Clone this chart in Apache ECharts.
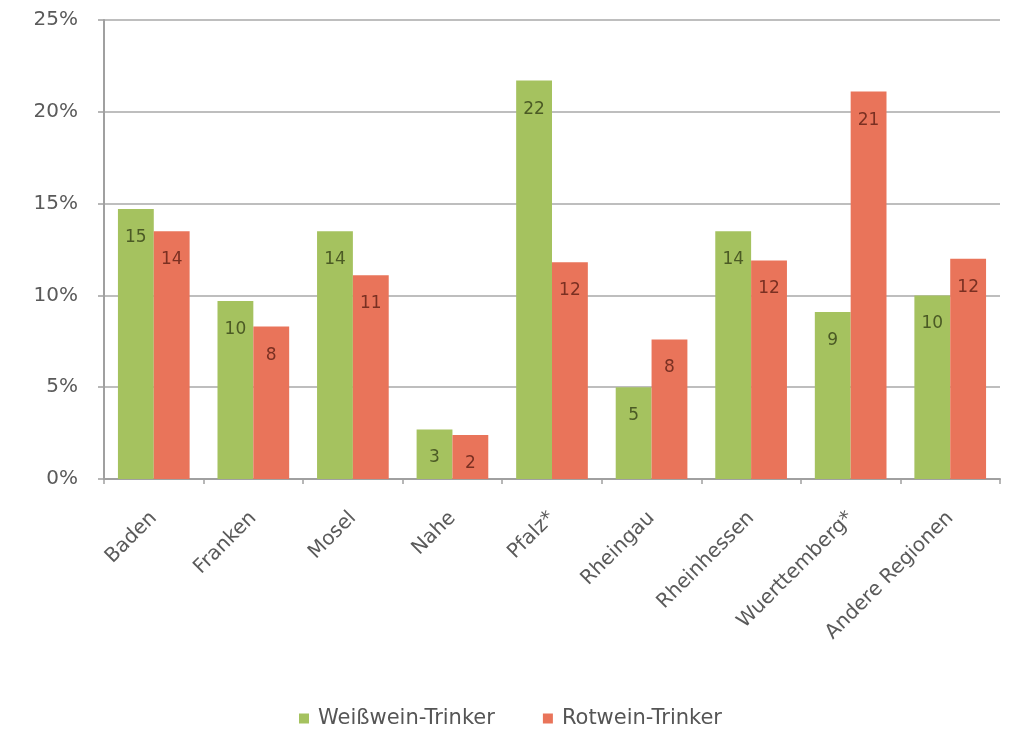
<!DOCTYPE html>
<html>
<head>
<meta charset="utf-8">
<style>
  html, body { margin: 0; padding: 0; background: #ffffff; }
  #chart { width: 1021px; height: 733px; }
</style>
<script src="https://cdn.jsdelivr.net/npm/echarts@6/dist/echarts.min.js"></script>
</head>
<body>
<div id="chart"></div>
<script>
// Regional preference of white- and red-wine drinkers (share in %)
const regions = ['Baden', 'Franken', 'Mosel', 'Nahe', 'Pfalz*', 'Rheingau', 'Rheinhessen', 'Wuerttemberg*', 'Andere Regionen'];
const weissweinValues = [14.7, 9.7, 13.5, 2.7, 21.7, 5.0, 13.5, 9.1, 10.0];
const rotweinValues = [13.5, 8.3, 11.1, 2.4, 11.8, 7.6, 11.9, 21.1, 12.0];
const seriesNames = ['Weißwein-Trinker', 'Rotwein-Trinker'];
const yTicks = [0, 5, 10, 15, 20, 25];

const fontFamily = '"DejaVu Sans", "Noto Sans", sans-serif';
const greenColor = '#a5c25f';
const redColor = '#e9745a';

const chart = echarts.init(document.getElementById('chart'));

function barLabel(color) {
  return {
    show: true,
    position: 'insideTop',
    distance: 20,
    color: color,
    fontFamily: fontFamily,
    fontSize: 17,
    formatter: p => String(Math.round(p.value))
  };
}

chart.setOption({
  backgroundColor: '#ffffff',
  animation: false,
  grid: { left: 104, right: 21, top: 20, bottom: 254, containLabel: false },
  legend: {
    bottom: -1,
    left: 'center',
    itemWidth: 10,
    itemHeight: 10,
    itemGap: 48,
    icon: 'rect',
    textStyle: { color: '#555555', fontFamily: fontFamily, fontSize: 21, padding: [0, 0, 0, 4] },
    data: seriesNames
  },
  xAxis: {
    type: 'category',
    data: regions,
    axisLine: { lineStyle: { color: '#a0a0a0', width: 2 } },
    axisTick: { show: true, alignWithLabel: false, length: 5, lineStyle: { color: '#a0a0a0', width: 1.5 } },
    axisLabel: {
      rotate: 45,
      margin: 36,
      color: '#5a5a5a',
      fontFamily: fontFamily,
      fontSize: 20,
      interval: 0
    }
  },
  yAxis: {
    type: 'value',
    min: yTicks[0],
    max: yTicks[yTicks.length - 1],
    interval: 5,
    axisLine: { show: true, lineStyle: { color: '#a0a0a0', width: 2 } },
    axisTick: { show: true, inside: false, length: 6, lineStyle: { color: '#a0a0a0', width: 1.5 } },
    splitLine: { show: true, lineStyle: { color: '#a8a8a8', width: 1.5 } },
    axisLabel: {
      color: '#5a5a5a',
      fontFamily: fontFamily,
      fontSize: 20,
      margin: 26,
      formatter: v => v + '%'
    }
  },
  series: [
    {
      name: seriesNames[0],
      type: 'bar',
      data: weissweinValues,
      barWidth: '36%',
      barGap: '0%',
      itemStyle: { color: greenColor },
      label: barLabel('#4b5a25')
    },
    {
      name: seriesNames[1],
      type: 'bar',
      data: rotweinValues,
      barWidth: '36%',
      barGap: '0%',
      itemStyle: { color: redColor },
      label: barLabel('#7a3022')
    }
  ]
});
</script>
</body>
</html>
